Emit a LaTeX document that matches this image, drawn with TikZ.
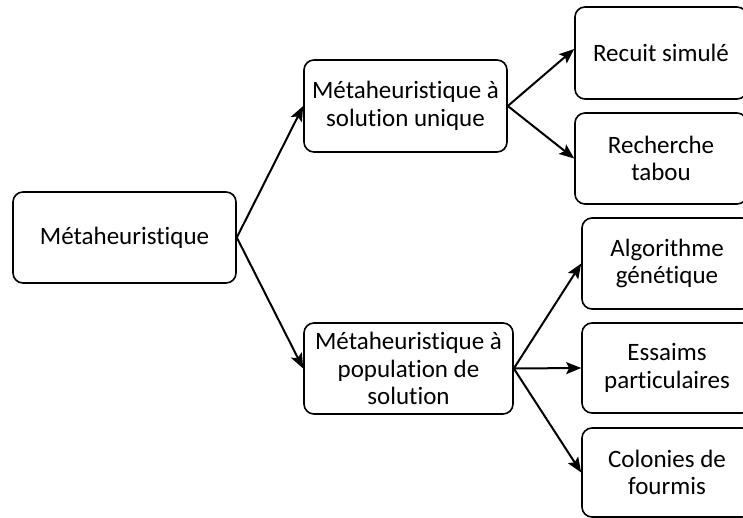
\documentclass[tikz,border=0pt]{standalone}
\usepackage{fontspec}
\setmainfont[Ligatures=NoCommon,RawFeature=-liga]{Carlito}
\usepackage{tikz}
\usetikzlibrary{arrows.meta}

\tikzset{
    boite/.style={draw, line width=1.6pt, rounded corners=10pt, align=center,
        font=\fontsize{25}{27.5}\selectfont, inner sep=0pt},
    fleche/.style={line width=2pt, -{Stealth[length=15pt,width=12pt,inset=3pt]}}
}

\begin{document}
\begin{tikzpicture}[x=1pt, y=-1pt]
\useasboundingbox (0,0) rectangle (743,518);

\node[boite, minimum width=223, minimum height=91] (meta) at (124.5,237.5) {Métaheuristique};
\node[boite, minimum width=203, minimum height=92] (unique) at (405.5,106) {Métaheuristique à\\solution unique};
\node[boite, minimum width=209, minimum height=91] (popul) at (408.5,368.5) {Métaheuristique à\\population de\\solution};

\node[boite, minimum width=172, minimum height=92] (recuit) at (661,53) {Recuit simulé};
\node[boite, minimum width=172, minimum height=91] (tabou) at (661,158.5) {Recherche\\tabou};
\node[boite, minimum width=170, minimum height=91] (genetique) at (667,263.5) {Algorithme\\génétique};
\node[boite, minimum width=170, minimum height=90] (essaims) at (667,368) {Essaims\\particulaires};
\node[boite, minimum width=170, minimum height=89] (fourmis) at (667,472.5) {Colonies de\\fourmis};

\draw[fleche] (meta.east) -- (unique.west);
\draw[fleche] (meta.east) -- (popul.west);

\draw[fleche] (unique.east) -- ([yshift=4pt]recuit.west);
\draw[fleche] (unique.east) -- (tabou.west);

\foreach \cible in {genetique, essaims, fourmis}{
    \draw[fleche] (popul.east) -- (\cible.west);
}
\end{tikzpicture}
\end{document}
